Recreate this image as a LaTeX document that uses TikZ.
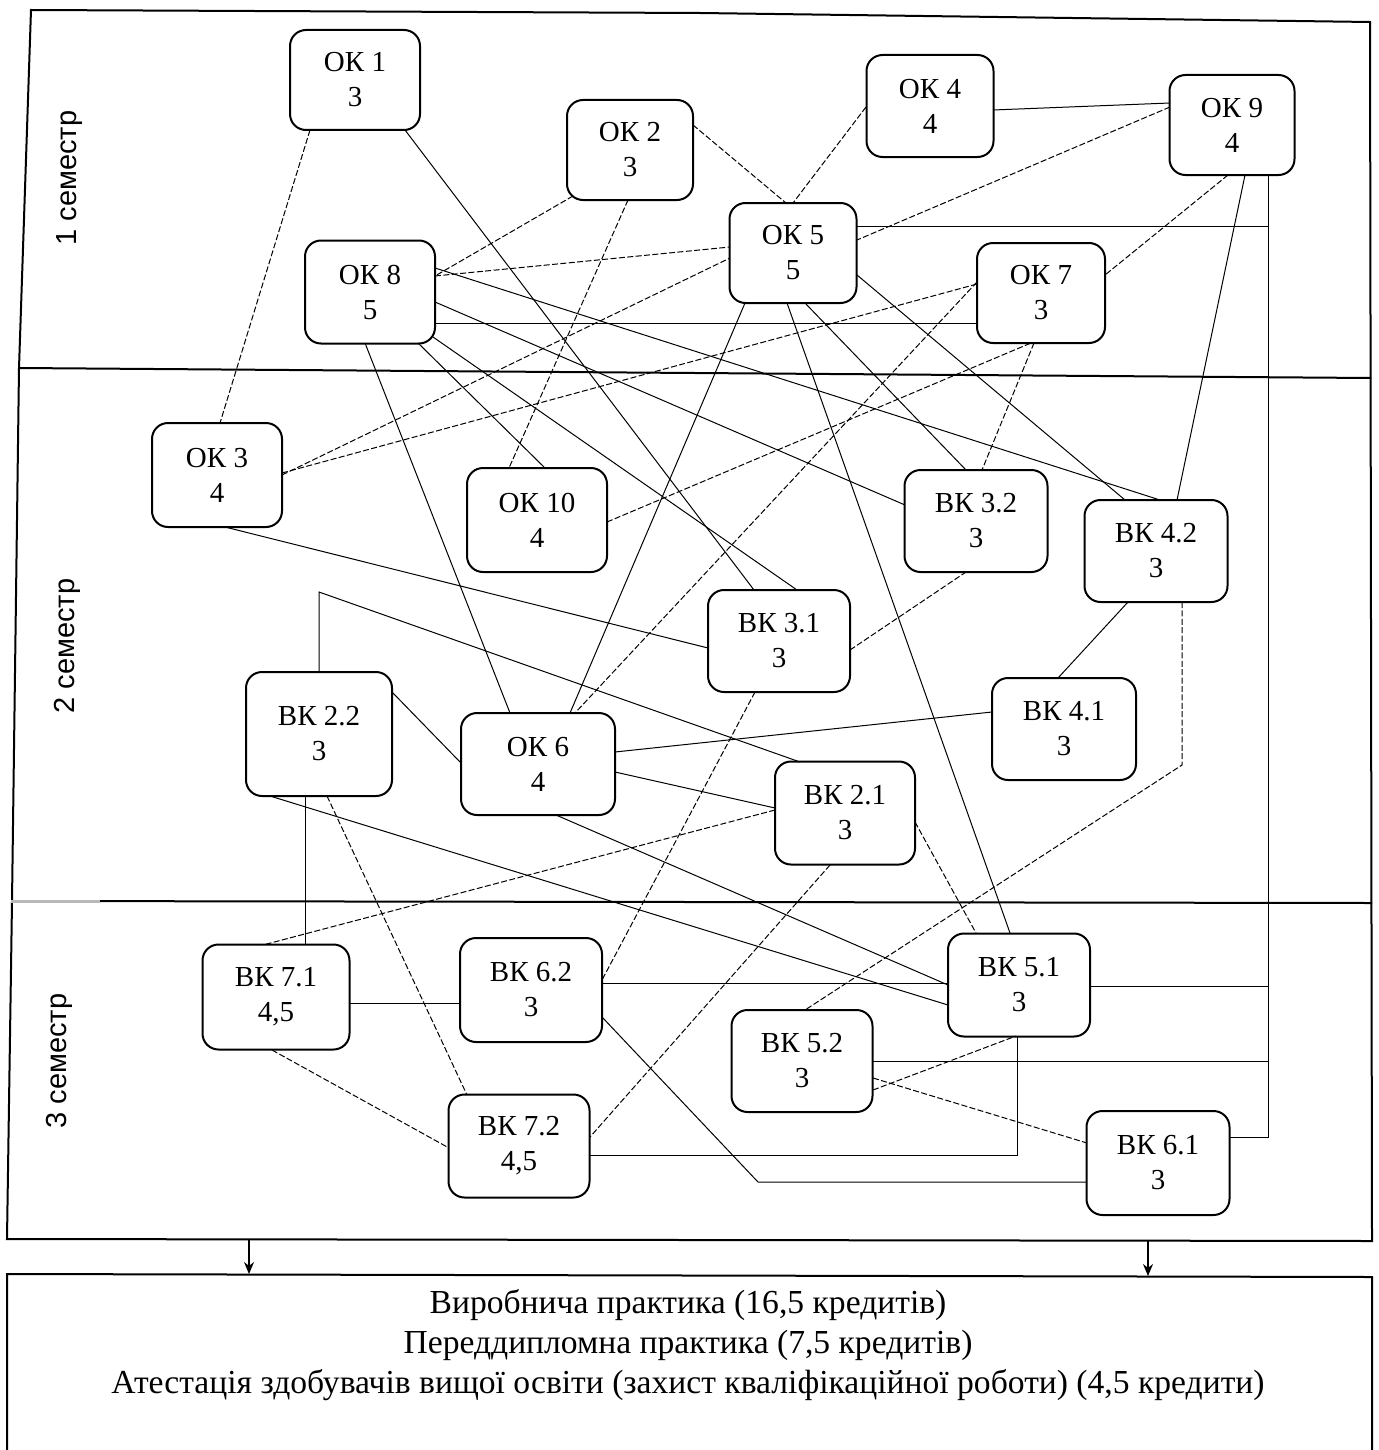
\documentclass[tikz,border=0pt]{standalone}
\usepackage{fontspec}
\setmainfont{Liberation Serif}
\newfontfamily\semfont{Liberation Sans}
\usetikzlibrary{calc,arrows.meta}
\begin{document}
\begin{tikzpicture}[x=0.5pt,y=-0.5pt,
  cbox/.style={draw, line width=1pt, rounded corners=8pt, align=center, inner sep=0pt, fill=white,
    font=\fontsize{14.5}{17.5}\selectfont},
  lk/.style={line width=0.5pt},
  dk/.style={line width=0.5pt, dash pattern=on 3pt off 1.2pt},
  frm/.style={line width=1pt},
  sem/.style={rotate=90, font=\semfont\fontsize{14.5}{17}\selectfont},
  arr/.style={line width=0.6pt, -{Stealth[length=6pt,width=5pt]}}]
\useasboundingbox (0,0) rectangle (1378,1450);

% frame
\draw[frm] (31,10) -- (700,13) -- (1370,22) -- (1372,1241) -- (7,1239) -- (12,902) -- (19,368) -- cycle;
\draw[frm] (19,368) -- (1371,378);
\draw[frm] (12,901) -- (1372,903);
\draw[gray!55, line width=1.5pt] (11,901) -- (100,901);

\node[sem] (s1) at (70,178) {1 семестр};
\node[sem] (s2) at (67,646) {2 семестр};
\node[sem] (s3) at (59,1061) {3 семестр};

% bus and corner coordinates
\coordinate (c1) at (319,592);
\coordinate (c2) at (758,1182);
\coordinate (c3) at (1182,765);
\coordinate (bA) at (1268,226);
\coordinate (bB) at (1268,986);
\coordinate (bC) at (1268,1061);

% nodes
\node[cbox, minimum width=65pt, minimum height=50pt] (ok1) at (355,80) {ОК 1\\3};
\node[cbox, minimum width=63pt, minimum height=50pt] (ok2) at (630,150) {ОК 2\\3};
\node[cbox, minimum width=63.5pt, minimum height=51pt] (ok4) at (930,106) {ОК 4\\4};
\node[cbox, minimum width=62.5pt, minimum height=50pt] (ok9) at (1232,125) {ОК 9\\4};
\node[cbox, minimum width=63.5pt, minimum height=50pt] (ok5) at (793,253) {ОК 5\\5};
\node[cbox, minimum width=65pt, minimum height=51.5pt] (ok8) at (370,292) {ОК 8\\5};
\node[cbox, minimum width=64pt, minimum height=50pt] (ok7) at (1041,293) {ОК 7\\3};
\node[cbox, minimum width=65pt, minimum height=52pt] (ok3) at (217,475) {ОК 3\\4};
\node[cbox, minimum width=70pt, minimum height=52pt] (ok10) at (537,520) {ОК 10\\4};
\node[cbox, minimum width=71.5pt, minimum height=51pt] (vk32) at (976,521) {ВК 3.2\\3};
\node[cbox, minimum width=71.5pt, minimum height=51pt] (vk42) at (1156,551) {ВК 4.2\\3};
\node[cbox, minimum width=71pt, minimum height=51pt] (vk31) at (779,641) {ВК 3.1\\3};
\node[cbox, minimum width=73pt, minimum height=62pt] (vk22) at (319,734) {ВК 2.2\\3};
\node[cbox, minimum width=77pt, minimum height=51pt] (ok6) at (538,764) {ОК 6\\4};
\node[cbox, minimum width=72pt, minimum height=51pt] (vk41) at (1064,729) {ВК 4.1\\3};
\node[cbox, minimum width=70pt, minimum height=51.5pt] (vk21) at (845,813) {ВК 2.1\\3};
\node[cbox, minimum width=73.5pt, minimum height=52.5pt] (vk71) at (276,997) {ВК 7.1\\4,5};
\node[cbox, minimum width=71pt, minimum height=52pt] (vk62) at (531,990) {ВК 6.2\\3};
\node[cbox, minimum width=71pt, minimum height=51.5pt] (vk51) at (1019,985) {ВК 5.1\\3};
\node[cbox, minimum width=70.5pt, minimum height=51pt] (vk52) at (802,1061) {ВК 5.2\\3};
\node[cbox, minimum width=70.5pt, minimum height=51.5pt] (vk72) at (519,1146) {ВК 7.2\\4,5};
\node[cbox, minimum width=71.5pt, minimum height=52pt] (vk61) at (1158,1163) {ВК 6.1\\3};

% connectors
\draw[dk] ($(ok1)+(-45,50)$) -- ($(ok3)+(3,-52)$);
\draw[lk] ($(ok1)+(50,50)$) -- ($(vk31)+(-25,-51)$);
\draw[dk] ($(ok2)+(-57,46)$) -- ($(ok8)+(65,-16)$);
\draw[dk] ($(ok2)+(-2,50)$) -- ($(ok10)+(-28,-52)$);
\draw[dk] ($(ok2)+(63,-25)$) -- ($(ok5)+(-7,-50)$);
\draw[dk] ($(ok4)+(-64,1)$) -- ($(ok5)+(0,-50)$);
\draw[lk] ($(ok4)+(63,4)$) -- ($(ok9)+(-62,-22)$);
\draw[dk] ($(ok9)+(-62,-18)$) -- ($(ok5)+(64,-13)$);
\draw[dk] ($(ok9)+(-4,50)$) -- ($(ok7)+(64,-18)$);
\draw[lk] ($(ok9)+(13,50)$) -- ($(vk42)+(21,-51)$);
\draw[lk] ($(ok5)+(-48,50)$) -- ($(ok6)+(32,-51)$);
\draw[dk] ($(ok7)+(-64,-11)$) -- ($(ok6)+(37,-51)$);
\draw[dk] ($(ok3)+(65,-2)$) -- ($(ok7)+(-64,-9)$);
\draw[dk] ($(ok3)+(65,0)$) -- ($(ok5)+(-63,5)$);
\draw[lk] ($(ok5)+(-6,50)$) -- ($(vk51)+(-9,-52)$);
\draw[lk] ($(ok5)+(12,50)$) -- ($(vk32)+(-10,-51)$);
\draw[lk] ($(ok5)+(64,22)$) -- ($(vk42)+(-31,-51)$);
\draw[lk] ($(ok8)+(65,-24)$) -- ($(vk42)+(4,-51)$);
\draw[dk] ($(ok8)+(65,-16)$) -- ($(ok5)+(-63,-6)$);
\draw[lk] ($(ok8)+(65,10)$) -- ($(vk32)+(-71,-16)$);
\draw[lk] ($(ok8)+(65,31)$) -- ($(ok7)+(-64,30)$);
\draw[lk] ($(ok8)+(63,45)$) -- ($(vk31)+(18,-51)$);
\draw[lk] ($(ok8)+(48,51)$) -- ($(ok10)+(8,-52)$);
\draw[lk] ($(ok8)+(-5,51)$) -- ($(ok6)+(-28,-51)$);
\draw[lk] ($(ok3)+(8,52)$) -- ($(vk31)+(-71,7)$);
\draw[dk] ($(ok10)+(70,2)$) -- ($(ok7)+(-10,50)$);
\draw[dk] ($(ok7)+(-7,50)$) -- ($(vk32)+(6,-51)$);
\draw[dk] ($(vk31)+(71,9)$) -- ($(vk32)+(-10,51)$);
\draw[dk] ($(vk31)+(-24,51)$) -- ($(vk62)+(71,-10)$);
\draw[lk] ($(ok6)+(77,-12)$) -- ($(vk41)+(-72,-17)$);
\draw[lk] ($(ok6)+(77,8)$) -- ($(vk21)+(-70,-5)$);
\draw[lk] ($(ok6)+(18,51)$) -- ($(vk51)+(-71,0)$);
\draw[lk] ($(vk22)+(73,-42)$) -- ($(ok6)+(-77,-1)$);
\draw[lk] ($(vk22)+(0,-62)$) -- (c1) -- ($(vk21)+(-45,-51)$);
\draw[lk] ($(vk22)+(-14,62)$) -- ($(vk71)+(29,-52)$);
\draw[dk] ($(vk22)+(8,62)$) -- ($(vk72)+(-52,-51)$);
\draw[lk] ($(vk22)+(-49,62)$) -- ($(vk51)+(-71,20)$);
\draw[dk] ($(vk21)+(-70,-3)$) -- ($(vk71)+(-13,-52)$);
\draw[dk] ($(vk21)+(70,9)$) -- ($(vk51)+(-43,-52)$);
\draw[dk] ($(vk21)+(-15,52)$) -- ($(vk72)+(71,-9)$);
\draw[lk] ($(vk71)+(73,6)$) -- ($(vk62)+(-71,13)$);
\draw[dk] ($(vk71)+(-4,53)$) -- ($(vk72)+(-70,2)$);
\draw[lk] ($(vk62)+(71,-7)$) -- ($(vk51)+(-71,-2)$);
\draw[lk] ($(vk62)+(71,27)$) -- (c2) -- ($(vk61)+(-71,19)$);
\draw[lk] ($(vk72)+(71,9)$) -| ($(vk51)+(-2,51)$);
\draw[dk] ($(vk42)+(26,51)$) -- (c3) -- ($(vk52)+(3,-51)$);
\draw[dk] ($(vk52)+(71,29)$) -- ($(vk51)+(-3,51)$);
\draw[dk] ($(vk52)+(71,17)$) -- ($(vk61)+(-71,-20)$);
\draw[lk] ($(vk42)+(-28,51)$) -- ($(vk41)+(-6,-51)$);
\draw[lk] ($(ok9)+(36,50)$) |- ($(vk61)+(72,-26)$);
\draw[lk] ($(ok5)+(64,-27)$) -- (bA);
\draw[lk] ($(vk51)+(71,1)$) -- (bB);
\draw[lk] ($(vk52)+(71,0)$) -- (bC);

% bottom box
\draw[frm] (7,1450) -- (7,1274) -- (1372,1277) -- (1372,1450);
\coordinate (a1) at (249,1240);
\coordinate (a1e) at (249,1274);
\coordinate (a2) at (1148,1241);
\coordinate (a2e) at (1148,1276);
\draw[arr] (a1) -- (a1e);
\draw[arr] (a2) -- (a2e);
\node[font=\fontsize{16.8}{20}\selectfont, align=center] (prac) at (688,1345)
  {Виробнича практика (16,5 кредитів)\\Переддипломна практика (7,5 кредитів)\\Атестація здобувачів вищої освіти (захист кваліфікаційної роботи) (4,5 кредити)};
\end{tikzpicture}
\end{document}
